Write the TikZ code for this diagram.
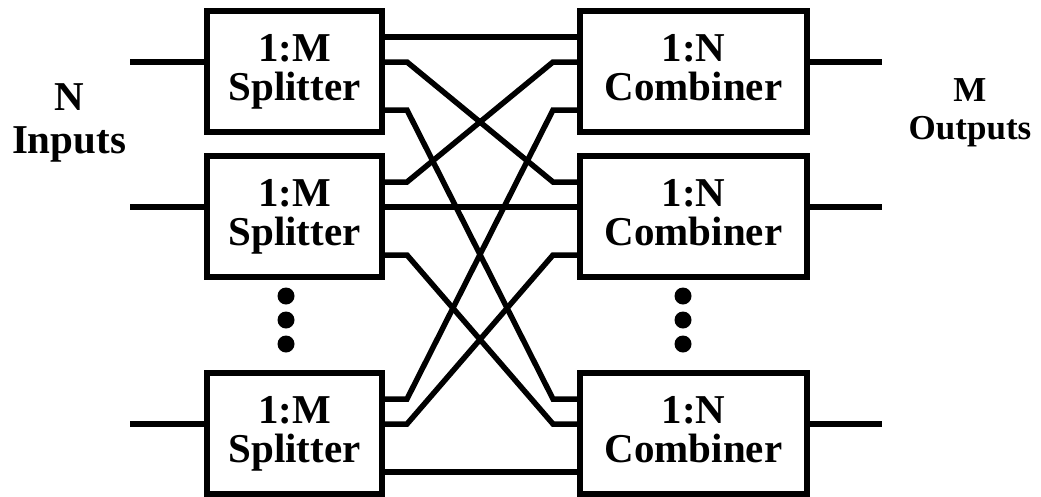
\documentclass[tikz,border=0pt]{standalone}
\usepackage{fontspec}
\setmainfont{Liberation Serif}
\usetikzlibrary{calc}
\begin{document}
\begin{tikzpicture}[x=1pt,y=-1pt,
  every node/.style={inner sep=0pt, outer sep=0pt},
  boxs/.style={draw, line width=5.5pt, minimum height=121pt, align=center,
    font=\fontsize{41}{39}\selectfont\bfseries},
  splitbox/.style={boxs, minimum width=175pt},
  combbox/.style={boxs, minimum width=227pt},
  wire/.style={line width=5.5pt},
  lbl/.style={align=center, font=\fontsize{41}{43}\selectfont\bfseries},
  rlbl/.style={align=center, font=\fontsize{35}{38}\selectfont\bfseries},
  dot/.style={circle, fill, minimum size=17pt}]
\useasboundingbox (0,0) rectangle (1041,496);
% boxes
\node[splitbox] (s1) at (294.5,71.5)  {1:M\\Splitter};
\node[splitbox] (s2) at (294.5,216.5) {1:M\\Splitter};
\node[splitbox] (s3) at (294.5,433.5) {1:M\\Splitter};
\node[combbox] (c1) at (693.5,71.5)  {1:N\\Combiner\vphantom{p}};
\node[combbox] (c2) at (693.5,216.5) {1:N\\Combiner\vphantom{p}};
\node[combbox] (c3) at (693.5,433.5) {1:N\\Combiner\vphantom{p}};
% interconnect
\foreach \i/\oi in {1/26,2/51,3/99}{
  \foreach \j/\oj in {1/26,2/51,3/99}{
    \draw[wire] ($(s\i.north east)+(0,\oj)$) -- ++(25,0)
      -- ($(c\j.north west)+(-27,\oi)$) -- ($(c\j.north west)+(0,\oi)$);
  }
}
% inputs and outputs
\foreach \k in {1,2,3}{
  \draw[wire] ($(s\k.north west)+(0,51)$) -- ++(-77,0);
  \draw[wire] ($(c\k.north east)+(0,51)$) -- ++(75,0);
}
% dots
\foreach \y [count=\n] in {296,320,344}{
  \node[dot] (ds\n) at (286,\y) {};
  \node[dot] (dc\n) at (683,\y) {};
}
% labels
\node[lbl] (lIn) at (69,123) {N\\Inputs};
\node[rlbl] (lOut) at (970,113) {M\\Outputs};
\end{tikzpicture}
\end{document}
